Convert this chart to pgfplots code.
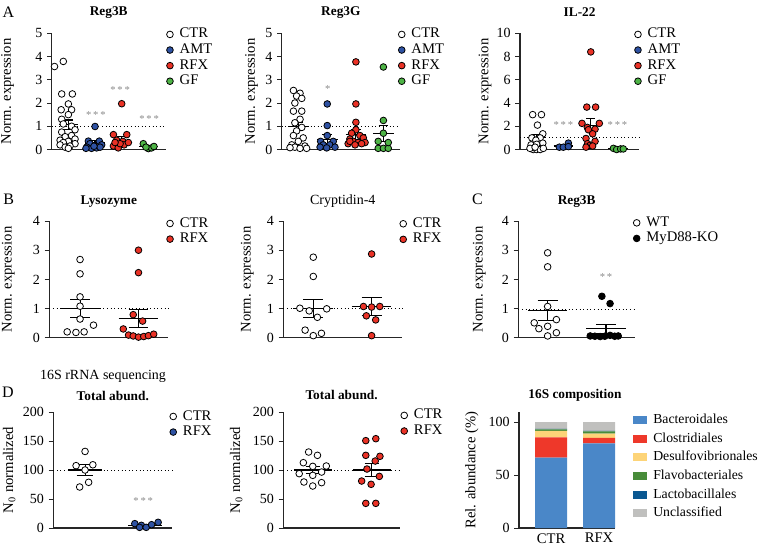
\documentclass[border=0pt]{standalone}
\usepackage{fontspec}
\setmainfont{Liberation Serif}
\usepackage{pgfplots}
\pgfplotsset{compat=1.18}
\definecolor{amtc}{RGB}{46,82,163}
\definecolor{rfxc}{RGB}{234,50,38}
\definecolor{gfc}{RGB}{78,180,70}
\definecolor{bact}{RGB}{74,135,200}
\definecolor{clos}{RGB}{238,56,42}
\definecolor{desu}{RGB}{253,212,120}
\definecolor{flav}{RGB}{72,140,58}
\definecolor{lact}{RGB}{10,88,145}
\definecolor{uncl}{RGB}{192,192,190}
\definecolor{stargray}{RGB}{140,140,140}
\newcommand\fs{\fontsize{11}{13}\selectfont}
\newcommand\fk{\fontsize{10.5}{12}\selectfont}
\newcommand\ft{\fontsize{10}{12}\selectfont\bfseries}
\newcommand\sfnt{\fontsize{8}{8}\selectfont}
\pgfplotsset{
  panel/.style={
    scale only axis, anchor=south west, clip=false,
    axis lines=left, axis line style={-, line width=0.8pt, black!85},
    xtick=\empty, tick align=outside, major tick length=3.5pt,
    ytick style={line width=0.6pt, black!85},
    tick label style={font=\fk}, /pgf/number format/assume math mode=true,
    ylabel style={font=\fs, anchor=center},
    title style={font=\ft, anchor=center, yshift=-6pt},
    legend cell align=left,
    legend image code/.code={\draw[##1] plot coordinates {(0pt,0pt)};},
    legend style={draw=none, fill=none, font=\fs, anchor=north west, inner sep=0pt,
      column sep=3.8pt, row sep=0pt,
      nodes={inner sep=1pt, text height=7.5pt, text depth=2.2pt}},
  },
  ctr/.style={only marks, mark=*, mark size=2.5pt, mark options={fill=white, draw=black, line width=0.6pt}},
  amt/.style={only marks, mark=*, mark size=2.5pt, mark options={fill=amtc, draw=black, line width=0.6pt}},
  rfx/.style={only marks, mark=*, mark size=2.5pt, mark options={fill=rfxc, draw=black, line width=0.6pt}},
  gf/.style={only marks, mark=*, mark size=2.5pt, mark options={fill=gfc, draw=black, line width=0.6pt}},
  ko/.style={only marks, mark=*, mark size=2.5pt, mark options={fill=black, draw=black, line width=0.6pt}},
  meanl/.style={black, line width=0.8pt, forget plot, mark=none},
  refl/.style={black, line width=0.6pt, dash pattern=on 0.7pt off 2pt, forget plot, mark=none},
}
% x, mean, sem, half width of mean line, half width of caps
\newcommand\msem[5]{%
  \pgfmathsetmacro\mxa{#1-#4}\pgfmathsetmacro\mxb{#1+#4}%
  \pgfmathsetmacro\cxa{#1-#5}\pgfmathsetmacro\cxb{#1+#5}%
  \pgfmathsetmacro\mya{#2+#3}\pgfmathsetmacro\myb{#2-#3}%
  \addplot[meanl] coordinates {(\mxa,#2) (\mxb,#2)};
  \addplot[meanl] coordinates {(\cxa,\mya) (\cxb,\mya)};
  \addplot[meanl] coordinates {(\cxa,\myb) (\cxb,\myb)};
  \addplot[meanl] coordinates {(#1,\mya) (#1,\myb)};
}
\begin{document}
\begin{tikzpicture}
\useasboundingbox (0,0) rectangle (570.75pt,-409.5pt);
% panel letters
\node[font=\fontsize{12}{12}\selectfont] at (8.5*0.75pt,-12*0.75pt) {A};
\node[font=\fontsize{12}{12}\selectfont] at (8.7*0.75pt,-199.5*0.75pt) {B};
\node[font=\fontsize{12}{12}\selectfont] at (477.5*0.75pt,-199*0.75pt) {C};
\node[font=\fontsize{12}{12}\selectfont] at (8*0.75pt,-392.5*0.75pt) {D};
\node[font=\fontsize{10.5}{12}\selectfont] at (103*0.75pt,-376*0.75pt) {16S rRNA sequencing};

% ---------------- A1 Reg3B
\begin{axis}[panel, at={(51.7*0.75pt,-149.5*0.75pt)}, width=85.5pt, height=87.15pt,
  xmin=-0.625, xmax=3.65, ymin=0, ymax=5, ytick={0,1,2,3,4,5},
  title={Reg3B}, title style={at={(axis description cs:0.5,1.18)}},
  ylabel={Norm. expression}, ylabel style={at={(axis description cs:-0.386,0.5)}},
  legend style={at={(axis description cs:1,1)}, xshift=0.5pt, yshift=5.2pt}]
\addplot[refl] coordinates {(-0.625,1) (3.65,1)};
\addplot[ctr] table[row sep=\\]{x y\\ -0.19 3.79\\ -0.52 3.57\\ -0.25 2.39\\ 0.15 2.39\\ 0 1.96\\ -0.27 1.71\\ 0.12 1.71\\ 0 1.5\\ -0.25 1.3\\ -0.19 1.1\\ 0.12 1.0\\ 0.25 0.85\\ -0.25 0.75\\ 0.12 0.6\\ -0.12 0.55\\ 0.25 0.45\\ -0.31 0.4\\ 0 0.35\\ -0.19 0.3\\ 0.25 0.25\\ -0.31 0.2\\ 0.06 0.15\\ -0.12 0.1\\ 0 0.05\\};
\addlegendentry{CTR}
\addplot[amt] table[row sep=\\]{x y\\ 1.0 0.99\\ 0.75 0.36\\ 1.16 0.36\\ 0.81 0.25\\ 1.25 0.2\\ 0.69 0.1\\ 0.87 0.05\\ 1.06 0.07\\ 1.19 0.1\\ 0.96 0.14\\ 0.66 0.05\\};
\addlegendentry{AMT}
\addplot[rfx] table[row sep=\\]{x y\\ 2.0 1.97\\ 1.69 0.64\\ 2.19 0.64\\ 1.81 0.4\\ 2.04 0.35\\ 1.69 0.15\\ 1.87 0.07\\ 2.09 0.2\\ 2.25 0.3\\ 1.94 0.25\\ 1.75 0.3\\};
\addlegendentry{RFX}
\addplot[gf] table[row sep=\\]{x y\\ 2.81 0.25\\ 3.0 0.04\\ 3.12 0.07\\ 3.21 0.13\\ 2.91 0.1\\};
\addlegendentry{GF}
\msem{0}{1.07}{0.2}{0.36}{0.17}
\msem{1}{0.28}{0.12}{0.36}{0.17}
\msem{2}{0.4}{0.17}{0.36}{0.17}
\msem{3}{0.12}{0.04}{0.36}{0.17}
\node[font=\sfnt, text=stargray] at (axis cs:1.03,1.5) {*\,*\,*};
\node[font=\sfnt, text=stargray] at (axis cs:1.94,2.57) {*\,*\,*};
\node[font=\sfnt, text=stargray] at (axis cs:3.03,1.33) {*\,*\,*};
\end{axis}

% ---------------- A2 Reg3G
\begin{axis}[panel, at={(281.7*0.75pt,-149.5*0.75pt)}, width=88.73pt, height=87.15pt,
  xmin=-0.58, xmax=3.55, ymin=0, ymax=5, ytick={0,1,2,3,4,5},
  title={Reg3G}, title style={at={(axis description cs:0.5,1.18)}},
  ylabel={Norm. expression}, ylabel style={at={(axis description cs:-0.254,0.5)}},
  legend style={at={(axis description cs:1,1)}, xshift=-1.4pt, yshift=5.2pt}]
\addplot[refl] coordinates {(-0.58,1) (3.55,1)};
\addplot[ctr] table[row sep=\\]{x y\\ -0.17 2.54\\ 0.06 2.42\\ -0.06 2.3\\ 0.12 2.2\\ -0.12 2.0\\ -0.17 1.65\\ 0.12 1.65\\ 0.06 1.3\\ -0.12 1.15\\ 0.12 0.95\\ -0.06 0.8\\ -0.17 0.6\\ 0.17 0.5\\ 0 0.35\\ -0.23 0.2\\ 0.23 0.15\\ -0.12 0.1\\ 0.06 0.05\\ -0.29 0.08\\ 0.29 0.05\\};
\addlegendentry{CTR}
\addplot[amt] table[row sep=\\]{x y\\ 1.01 1.96\\ 1.01 1.03\\ 1.01 0.6\\ 0.78 0.35\\ 1.22 0.35\\ 0.87 0.2\\ 1.1 0.2\\ 0.76 0.1\\ 0.99 0.07\\ 1.28 0.1\\};
\addlegendentry{AMT}
\addplot[rfx] table[row sep=\\]{x y\\ 2.01 3.77\\ 2.01 1.96\\ 2.01 1.17\\ 2.01 0.85\\ 1.86 0.7\\ 2.15 0.6\\ 1.8 0.45\\ 2.27 0.5\\ 1.92 0.35\\ 2.09 0.3\\ 1.74 0.25\\ 2.33 0.3\\ 1.8 0.35\\ 1.98 0.2\\ 2.21 0.25\\};
\addlegendentry{RFX}
\addplot[gf] table[row sep=\\]{x y\\ 2.97 3.55\\ 2.97 1.25\\ 2.97 0.7\\ 2.79 0.35\\ 2.79 0.05\\ 2.97 0.05\\ 3.14 0.05\\ 3.14 0.3\\};
\addlegendentry{GF}
\msem{0}{1.0}{0.18}{0.36}{0.17}
\msem{1.01}{0.45}{0.18}{0.36}{0.17}
\msem{2.01}{0.65}{0.2}{0.36}{0.17}
\msem{2.97}{0.7}{0.35}{0.36}{0.17}
\node[font=\sfnt, text=stargray] at (axis cs:1.03,2.6) {*};
\end{axis}

% ---------------- A3 IL-22
\begin{axis}[panel, at={(520*0.75pt,-149.5*0.75pt)}, width=89.48pt, height=87.15pt,
  xmin=-0.625, xmax=3.85, ymin=0, ymax=10, ytick={0,2,4,6,8,10},
  title={IL-22}, title style={at={(axis description cs:0.5,1.18)}},
  ylabel={Norm. expression}, ylabel style={at={(axis description cs:-0.293,0.5)}},
  legend style={at={(axis description cs:1,1)}, xshift=-3.7pt, yshift=5.2pt}]
\addplot[refl] coordinates {(-0.625,1) (3.85,1)};
\addplot[ctr] table[row sep=\\]{x y\\ -0.15 3.0\\ 0.18 3.0\\ 0.03 2.1\\ 0.23 1.35\\ -0.18 1.0\\ 0.13 1.0\\ -0.03 0.8\\ 0.23 0.55\\ -0.21 0.4\\ 0 0.45\\ -0.13 0.0\\ 0 0.0\\ 0.13 0.0\\ -0.25 0.1\\ 0.25 0.1\\ -0.06 0.2\\};
\addlegendentry{CTR}
\addplot[amt] table[row sep=\\]{x y\\ 1.19 0.55\\ 0.85 0.2\\ 1.0 0.2\\ 1.19 0.25\\};
\addlegendentry{AMT}
\addplot[rfx] table[row sep=\\]{x y\\ 2.03 8.4\\ 1.88 3.65\\ 2.21 3.65\\ 1.7 2.25\\ 2.35 2.25\\ 1.9 1.9\\ 2.19 1.75\\ 1.94 1.7\\ 2.1 1.35\\ 1.85 0.95\\ 2.19 0.7\\ 1.91 0.5\\ 2.0 0.35\\ 2.1 0.3\\ 1.85 0.2\\};
\addlegendentry{RFX}
\addplot[gf] table[row sep=\\]{x y\\ 2.88 0.1\\ 3.0 0.0\\ 3.15 0.05\\ 3.25 0.05\\};
\addlegendentry{GF}
\msem{0}{1.03}{0.25}{0.36}{0.17}
\msem{1}{0.3}{0.1}{0.36}{0.17}
\msem{2.03}{2.1}{0.55}{0.4}{0.17}
\msem{3.05}{0.05}{0.02}{0.36}{0.17}
\node[font=\sfnt, text=stargray] at (axis cs:1.0,2.1) {*\,*\,*};
\node[font=\sfnt, text=stargray] at (axis cs:3.03,2.1) {*\,*\,*};
\end{axis}

% ---------------- B1 Lysozyme
\begin{axis}[panel, at={(49.3*0.75pt,-337.7*0.75pt)}, width=89.25pt, height=87.5pt,
  xmin=-0.526, xmax=1.51, ymin=0, ymax=4, ytick={0,1,2,3,4},
  title={Lysozyme}, title style={at={(axis description cs:0.5,1.163)}},
  ylabel={Norm. expression}, ylabel style={at={(axis description cs:-0.345,0.5)}},
  legend style={at={(axis description cs:1,1)}, xshift=-1.4pt, yshift=4.2pt}]
\addplot[refl] coordinates {(-0.526,1) (1.51,1)};
\addplot[ctr] table[row sep=\\]{x y\\ 0 2.68\\ 0 2.19\\ 0 1.4\\ 0 1.08\\ 0 0.64\\ -0.22 0.2\\ -0.07 0.18\\ 0.07 0.2\\ 0.23 0.43\\};
\addlegendentry{CTR}
\addplot[rfx] table[row sep=\\]{x y\\ 1.0 3.0\\ 1.0 2.23\\ 0.91 0.79\\ 1.07 0.57\\ 0.74 0.3\\ 0.83 0.09\\ 0.91 0.06\\ 1.0 0.02\\ 1.09 0.04\\ 1.17 0.07\\ 1.26 0.12\\};
\addlegendentry{RFX}
\msem{0}{1.0}{0.31}{0.34}{0.17}
\msem{1}{0.66}{0.31}{0.34}{0.17}
\end{axis}

% ---------------- B2 Cryptidin-4
\begin{axis}[panel, at={(283.3*0.75pt,-337.7*0.75pt)}, width=89.25pt, height=87.5pt,
  xmin=-0.514, xmax=1.526, ymin=0, ymax=4, ytick={0,1,2,3,4},
  title={Cryptidin-4}, title style={at={(axis description cs:0.5,1.171)}, font=\fontsize{10.5}{12}\selectfont},
  ylabel={Norm. expression}, ylabel style={at={(axis description cs:-0.303,0.5)}},
  legend style={at={(axis description cs:1,1)}, xshift=-2pt, yshift=4pt}]
\addplot[refl] coordinates {(-0.514,1) (1.526,1)};
\addplot[ctr] table[row sep=\\]{x y\\ 0 2.76\\ 0 2.1\\ -0.23 1.01\\ -0.07 0.92\\ 0.23 0.99\\ 0.07 0.7\\ -0.14 0.26\\ 0 0.07\\ 0.14 0.15\\};
\addlegendentry{CTR}
\addplot[rfx] table[row sep=\\]{x y\\ 1.0 2.87\\ 0.86 1.07\\ 1.0 1.05\\ 1.14 1.07\\ 0.91 0.75\\ 1.07 0.61\\ 1.0 0.07\\};
\addlegendentry{RFX}
\msem{0}{0.99}{0.31}{0.34}{0.17}
\msem{1}{1.07}{0.32}{0.34}{0.17}
\end{axis}

% ---------------- C Reg3B MyD88
\begin{axis}[panel, at={(518.3*0.75pt,-337.7*0.75pt)}, width=87.5pt, height=87.5pt,
  xmin=-0.503, xmax=1.497, ymin=0, ymax=4, ytick={0,1,2,3,4},
  title={Reg3B}, title style={at={(axis description cs:0.5,1.163)}},
  ylabel={Norm. expression}, ylabel style={at={(axis description cs:-0.334,0.5)}},
  legend style={at={(axis description cs:1,1)}, xshift=-1.4pt, yshift=4.7pt}]
\addplot[refl] coordinates {(-0.503,0.96) (1.497,0.96)};
\addplot[ctr] table[row sep=\\]{x y\\ 0 2.91\\ 0 2.43\\ 0 1.07\\ -0.23 0.51\\ -0.15 0.31\\ 0 0.39\\ 0.15 0.62\\ 0.15 0.17\\ 0 0.06\\};
\addlegendentry{WT}
\addplot[ko] table[row sep=\\]{x y\\ 0.93 1.42\\ 1.07 1.17\\ 0.73 0.06\\ 0.81 0.05\\ 0.9 0.04\\ 0.98 0.05\\ 1.07 0.08\\ 1.15 0.05\\ 1.21 0.06\\};
\addlegendentry{MyD88-KO}
\msem{0}{0.94}{0.34}{0.34}{0.17}
\msem{1}{0.3}{0.16}{0.34}{0.17}
\node[font=\sfnt, text=stargray] at (axis cs:1.0,2.08) {*\,*};
\end{axis}

% ---------------- D1 Total abund. AMT
\begin{axis}[panel, at={(53.3*0.75pt,-528*0.75pt)}, width=89.25pt, height=87pt,
  xmin=-0.53, xmax=1.456, ymin=0, ymax=200, ytick={0,50,100,150,200},
  title={Total abund.}, title style={at={(axis description cs:0.5,1.138)}},
  ylabel={N\textsubscript{0} normalized}, ylabel style={at={(axis description cs:-0.37,0.5)}},
  legend style={at={(axis description cs:1,1)}, xshift=-2pt, yshift=2.7pt}]
\addplot[refl] coordinates {(-0.53,100) (1.456,100)};
\addplot[ctr] table[row sep=\\]{x y\\ 0 132\\ -0.15 107.5\\ 0 100\\ 0.13 109\\ -0.09 70.7\\ 0.06 78.8\\};
\addlegendentry{CTR}
\addplot[amt] table[row sep=\\]{x y\\ 0.83 7.5\\ 0.94 4.6\\ 0.91 1.1\\ 1.02 1.1\\ 1.11 5.7\\ 1.22 9.8\\};
\addlegendentry{RFX}
\msem{0}{100}{9}{0.28}{0.14}
\msem{1}{5}{1.5}{0.28}{0.14}
\node[font=\sfnt, text=stargray] at (axis cs:0.97,46) {*\,*\,*};
\end{axis}

% ---------------- D2 Total abund. RFX
\begin{axis}[panel, at={(283.3*0.75pt,-528*0.75pt)}, width=87.5pt, height=87pt,
  xmin=-0.5, xmax=1.48, ymin=0, ymax=200, ytick={0,50,100,150,200},
  title={Total abund.}, title style={at={(axis description cs:0.5,1.147)}},
  ylabel={N\textsubscript{0} normalized}, ylabel style={at={(axis description cs:-0.403,0.5)}},
  legend style={at={(axis description cs:1,1)}, xshift=0.5pt, yshift=3.5pt}]
\addplot[refl] coordinates {(-0.5,100) (1.48,100)};
\addplot[ctr] table[row sep=\\]{x y\\ -0.07 131\\ 0.08 125.3\\ -0.16 112.6\\ 0 106.3\\ 0.23 106.9\\ -0.23 93.7\\ 0 90.8\\ 0.15 96.5\\ -0.15 79.3\\ 0 72.4\\ 0.15 78.2\\};
\addlegendentry{CTR}
\addplot[rfx] table[row sep=\\]{x y\\ 0.9 150.6\\ 1.07 154\\ 0.9 125.3\\ 1.14 123.6\\ 1.06 115.5\\ 0.92 101.7\\ 1.13 89\\ 0.83 81\\ 0.99 75.3\\ 0.9 42.5\\ 1.07 42.5\\};
\addlegendentry{RFX}
\msem{0}{100}{6}{0.32}{0.12}
\msem{1}{100}{11}{0.32}{0.12}
\end{axis}

% ---------------- D3 16S composition
\begin{axis}[panel, at={(519*0.75pt,-528*0.75pt)}, width=72pt, height=87pt,
  ybar stacked, bar width=24pt,
  xmin=-0.667, xmax=1.333, ymin=0, ymax=109.5, ytick={0,50,100},
  xtick={0,1}, xticklabels={CTR,RFX}, x tick style={draw=none},
  xticklabel style={font=\fs, yshift=3pt},
  title={16S composition}, title style={at={(axis description cs:0.583,1.147)}},
  ylabel={Rel. abundance (\%)}, ylabel style={at={(axis description cs:-0.49,0.5)}},
  legend image code/.code={\fill[#1] (0pt,-3pt) rectangle (10pt,3pt);},
  legend style={at={(axis description cs:1.1875,1.0)}, row sep=2.3pt, column sep=4pt,
    font=\fontsize{10.3}{12}\selectfont}]
\addplot[fill=bact, draw=none] coordinates {(0,66.5) (1,80)};
\addlegendentry{Bacteroidales}
\addplot[fill=clos, draw=none] coordinates {(0,19) (1,5)};
\addlegendentry{Clostridiales}
\addplot[fill=desu, draw=none] coordinates {(0,6.3) (1,4)};
\addlegendentry{Desulfovibrionales}
\addplot[fill=flav, draw=none] coordinates {(0,1.2) (1,2.3)};
\addlegendentry{Flavobacteriales}
\addplot[fill=lact, draw=none] coordinates {(0,0.5) (1,0.3)};
\addlegendentry{Lactobacillales}
\addplot[fill=uncl, draw=none] coordinates {(0,6.5) (1,8.4)};
\addlegendentry{Unclassified}
\end{axis}
\end{tikzpicture}
\end{document}
